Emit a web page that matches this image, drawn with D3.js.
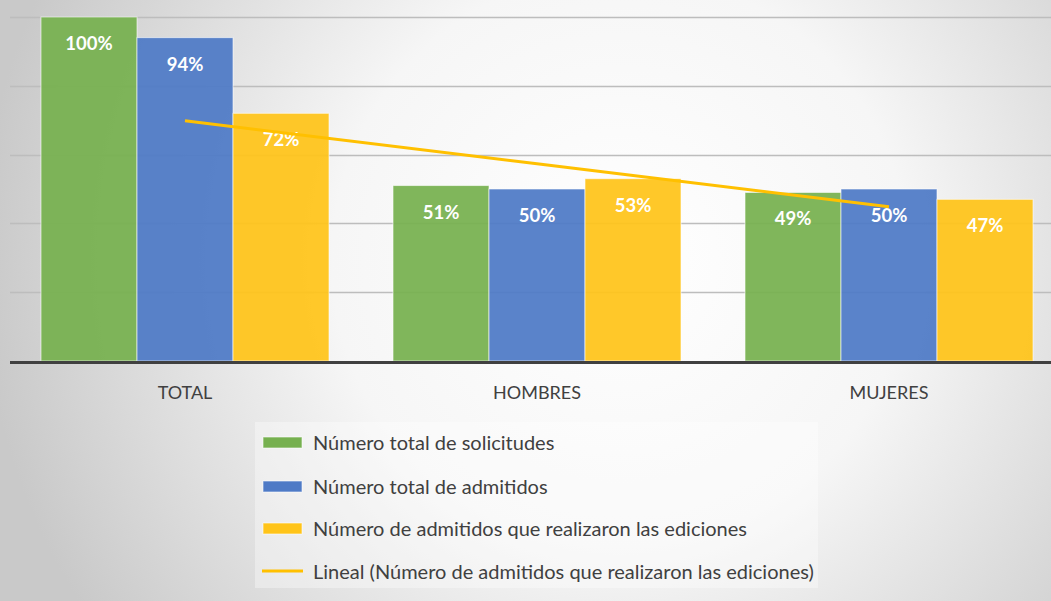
<!DOCTYPE html>
<html><head><meta charset="utf-8">
<script src="https://cdn.jsdelivr.net/npm/d3@7"></script>
<style>html,body{margin:0;padding:0;overflow:hidden;}svg{display:block;}</style>
</head><body>
<script>
const categories = ["TOTAL", "HOMBRES", "MUJERES"];
const seriesNames = ["Número total de solicitudes", "Número total de admitidos", "Número de admitidos que realizaron las ediciones"];
const solicitudes = [100, 51, 49];
const admitidos = [94, 50, 50];
const realizaron = [72, 53, 47];
const yTicks = [0, 20, 40, 60, 80, 100];
const trendName = "Lineal (Número de admitidos que realizaron las ediciones)";

const W = 1051, H = 601;
const colors = ["#76B04F", "#4E7AC6", "#FFC419"];
const series = [solicitudes, admitidos, realizaron];
const FONT = "Lato, 'Open Sans', sans-serif";

const svg = d3.select("body").append("svg").attr("width", W).attr("height", H);
const defs = svg.append("defs");
const rg = defs.append("radialGradient").attr("id", "bg").attr("gradientUnits", "userSpaceOnUse")
  .attr("cx", 620).attr("cy", 260).attr("r", 640);
rg.append("stop").attr("offset", "0").attr("stop-color", "#ffffff");
rg.append("stop").attr("offset", "0.45").attr("stop-color", "#f6f6f6");
rg.append("stop").attr("offset", "1").attr("stop-color", "#c9c9c9");
svg.append("rect").attr("width", W).attr("height", H).attr("fill", "url(#bg)");

const x0 = d3.scaleBand().domain(categories).range([9, 9 + 3 * 352]).paddingInner(64 / 352).paddingOuter(32 / 352);
const x1 = d3.scaleBand().domain(d3.range(3)).range([0, x0.bandwidth()]);
const y = d3.scaleLinear().domain([0, 100]).range([361, 17]);

// gridlines
svg.append("g").selectAll("line").data(yTicks.filter(t => t > 0)).join("line")
  .attr("x1", 10).attr("x2", W).attr("y1", d => Math.round(y(d)) + 0.5).attr("y2", d => Math.round(y(d)) + 0.5)
  .attr("stroke", "#bdbdbd").attr("stroke-width", 1.5);

// bars
const groups = svg.append("g").selectAll("g").data(categories).join("g")
  .attr("transform", c => `translate(${x0(c)},0)`);
groups.selectAll("rect").data((c, i) => series.map((s, k) => ({k, v: s[i]}))).join("rect")
  .attr("x", d => x1(d.k)).attr("width", x1.bandwidth())
  .attr("y", d => y(d.v)).attr("height", d => y(0) - y(d.v))
  .attr("fill", d => colors[d.k]).attr("fill-opacity", 0.93)
  .attr("stroke", "rgba(255,255,255,0.6)").attr("stroke-width", 1);

// trendline (linear fit of realizaron)
const xs = [1, 2, 3];
const mx = d3.mean(xs), my = d3.mean(realizaron);
const slope = d3.sum(xs.map((v, i) => (v - mx) * (realizaron[i] - my))) / d3.sum(xs.map(v => (v - mx) ** 2));
const icpt = my - slope * mx;
const trend = categories.map((c, i) => [x0(c) + x0.bandwidth() / 2, y(icpt + slope * xs[i])]);

// labels
groups.selectAll("text").data((c, i) => series.map((s, k) => ({k, v: s[i]}))).join("text")
  .attr("x", d => x1(d.k) + x1.bandwidth() / 2).attr("y", d => y(d.v) + 26)
  .attr("text-anchor", "middle").attr("dominant-baseline", "central")
  .attr("fill", "#ffffff").attr("font-family", FONT).attr("font-weight", "bold")
  .attr("font-size", 18.5).text(d => d.v + "%");

svg.append("path").attr("d", d3.line()(trend)).attr("fill", "none")
  .attr("stroke", "#FFC000").attr("stroke-width", 3);

// baseline
svg.append("line").attr("x1", 10).attr("x2", W).attr("y1", 362.5).attr("y2", 362.5)
  .attr("stroke", "#404040").attr("stroke-width", 3);

// category labels
svg.append("g").selectAll("text").data(categories).join("text")
  .attr("x", c => x0(c) + x0.bandwidth() / 2).attr("y", 392)
  .attr("text-anchor", "middle").attr("dominant-baseline", "central")
  .attr("fill", "#404040").attr("font-family", FONT).attr("font-size", 18)
  .text(c => c);

// legend
const lg = svg.append("g");
lg.append("rect").attr("x", 255).attr("y", 422).attr("width", 563).attr("height", 166)
  .attr("fill", "#ffffff").attr("fill-opacity", 0.35);
const rowsY = [442, 486, 528, 571];
seriesNames.forEach((n, k) => {
  lg.append("rect").attr("x", 263).attr("y", rowsY[k] - 5).attr("width", 39).attr("height", 11)
    .attr("fill", colors[k]).attr("stroke", "rgba(255,255,255,0.6)");
  lg.append("text").attr("x", 313).attr("y", rowsY[k]).attr("dominant-baseline", "central")
    .attr("fill", "#404040").attr("font-family", FONT).attr("font-size", 20).text(n);
});
lg.append("line").attr("x1", 262).attr("x2", 303).attr("y1", rowsY[3]).attr("y2", rowsY[3])
  .attr("stroke", "#FFC000").attr("stroke-width", 3);
lg.append("text").attr("x", 313).attr("y", rowsY[3]).attr("dominant-baseline", "central")
  .attr("fill", "#404040").attr("font-family", FONT).attr("font-size", 20).text(trendName);
</script>
</body></html>
